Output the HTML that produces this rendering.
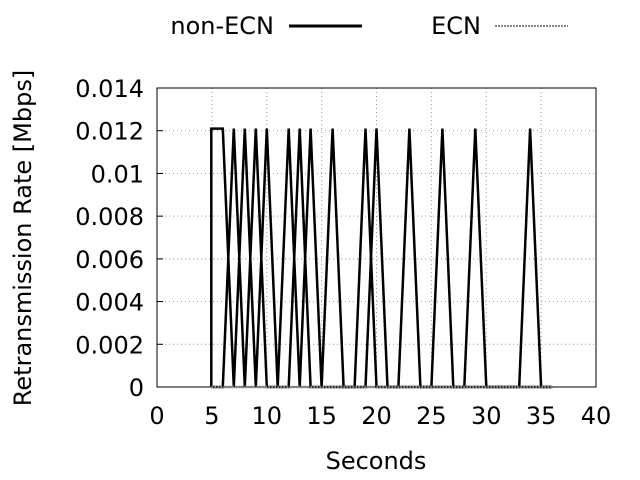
<!DOCTYPE html>
<html><head><meta charset="utf-8"><style>
body{margin:0;background:#fff}
svg{display:block;font-family:"DejaVu Sans","Liberation Sans",sans-serif}
</style></head><body>
<svg id="chart" width="640" height="480">
<rect width="640" height="480" fill="#fff"/>
<g id="grid"></g>
<g id="axes"></g>
<g id="series"></g>
<g>
 <text x="274" y="34" font-size="24" text-anchor="end">non-ECN</text>
 <line x1="289" y1="26" x2="362" y2="26" stroke="#000" stroke-width="3"/>
 <text x="481" y="34" font-size="24" text-anchor="end">ECN</text>
 <line x1="495" y1="26" x2="568" y2="26" stroke="#888" stroke-width="2" stroke-dasharray="2,1"/>
</g>
<text x="376" y="469" font-size="24" text-anchor="middle">Seconds</text>
<text transform="translate(31,238) rotate(-90)" font-size="24" text-anchor="middle">Retransmission Rate [Mbps]</text>
</svg>
<script>
const xTicks=[0,5,10,15,20,25,30,35,40];
const yTicks=[0,0.002,0.004,0.006,0.008,0.01,0.012,0.014];
const yTickLabels=["0","0.002","0.004","0.006","0.008","0.01","0.012","0.014"];
const nonEcnATimes=[4.95,4.95,6,7,8,9,10,11,12,13,14,15,16,17,18,19,20,21,22,23,24,25,26,27,28,29,30,31,32,33,34,35,36];
const nonEcnAValues=[0,0.0121,0.0121,0,0.0121,0,0.0121,0,0.0121,0,0.0121,0,0.0121,0,0,0.0121,0,0,0,0,0,0,0,0,0,0,0,0,0,0,0,0,0];
const nonEcnBTimes=[4.95,6,7,8,9,10,11,12,13,14,15,16,17,18,19,20,21,22,23,24,25,26,27,28,29,30,31,32,33,34,35,36];
const nonEcnBValues=[0,0,0.0121,0,0.0121,0,0,0,0.0121,0,0,0,0,0,0,0.0121,0,0,0.0121,0,0,0.0121,0,0,0.0121,0,0,0,0,0.0121,0,0];
const ecnTimes=[4.95,36];
const ecnValues=[0,0];
const L=157,R=596,T=88,B=387,XMAX=40,YMAX=0.014;
const xs=v=>L+(R-L)*v/XMAX, ys=v=>B-(B-T)*v/YMAX;
const NS="http://www.w3.org/2000/svg";
function mk(tag,attrs,parent){const e=document.createElementNS(NS,tag);for(const k in attrs)e.setAttribute(k,attrs[k]);parent.appendChild(e);return e;}
const grid=document.getElementById('grid'),axes=document.getElementById('axes'),ser=document.getElementById('series');
xTicks.forEach((t,i)=>{
 const x=xs(t);
 if(i>0&&i<xTicks.length-1){const g=mk('line',{x1:x,x2:x,y1:T,y2:B,stroke:'#999','stroke-dasharray':'1,3'},grid);
 
 }
 const tk=mk('line',{x1:x,x2:x,y1:B,y2:B-6,stroke:'#000'},axes);
 
 
 const lb=mk('text',{x:x,y:424,'font-size':24,'text-anchor':'middle'},axes);lb.textContent=t;
 
 
});
yTicks.forEach((t,i)=>{
 const y=ys(t);
 if(i>0&&i<yTicks.length-1){const g=mk('line',{x1:L,x2:R,y1:y,y2:y,stroke:'#999','stroke-dasharray':'1,3'},grid);
 
 }
 const tk=mk('line',{x1:L,x2:L+6,y1:y,y2:y,stroke:'#000'},axes);
 
 
 const lb=mk('text',{x:144,y:y+9,'font-size':24,'text-anchor':'end'},axes);lb.textContent=yTickLabels[i];
 
 
});
const frame=mk('rect',{x:L,y:T,width:R-L,height:B-T,fill:'none',stroke:'#000'},axes);


function pts(ts,vs){return ts.map((t,i)=>xs(t).toFixed(1)+','+ys(vs[i]).toFixed(1)).join(' ');}
const a=mk('polyline',{points:pts(nonEcnATimes,nonEcnAValues),fill:'none',stroke:'#000','stroke-width':2.5},ser);


const b=mk('polyline',{points:pts(nonEcnBTimes,nonEcnBValues),fill:'none',stroke:'#000','stroke-width':2.5},ser);


const e=mk('polyline',{points:pts(ecnTimes,ecnValues),fill:'none',stroke:'#888','stroke-width':2.5,'stroke-dasharray':'2,1'},ser);


</script>
</body></html>
